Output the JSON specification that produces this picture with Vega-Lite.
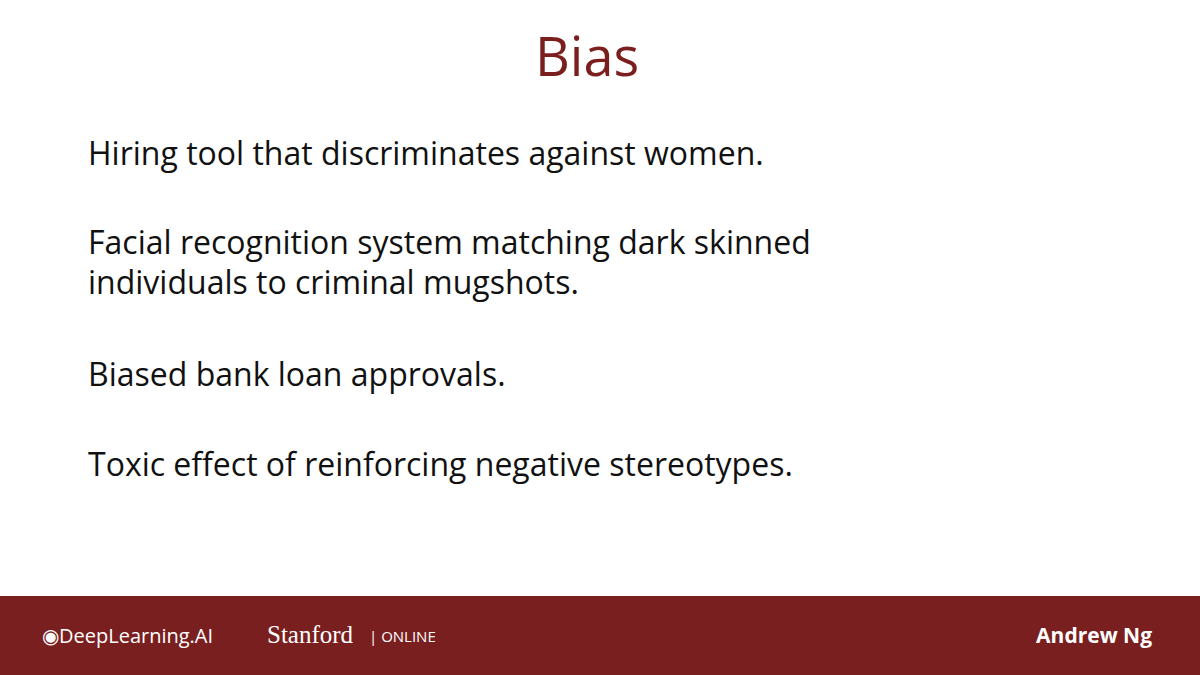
{
  "$schema": "https://vega.github.io/schema/vega-lite/v6.json",
  "width": 1200,
  "height": 675,
  "autosize": {"type": "none"},
  "padding": 0,
  "background": "white",
  "config": {"view": {"stroke": null}},
  "encoding": {
    "x": {"field": "x", "type": "quantitative", "scale": {"domain": [0, 1200], "nice": false, "zero": false}, "axis": null},
    "y": {"field": "y", "type": "quantitative", "scale": {"domain": [675, 0], "nice": false, "zero": false}, "axis": null}
  },
  "layer": [
    {
      "data": {"values": [{"x": 0, "x2": 1200, "y": 596, "y2": 675}]},
      "mark": {"type": "rect", "color": "#7a1f1f"},
      "encoding": {"x2": {"field": "x2"}, "y2": {"field": "y2"}}
    },
    {
      "data": {"values": [{"x": 587, "y": 60, "t": "Bias"}]},
      "mark": {"type": "text", "align": "center", "baseline": "middle", "font": "Open Sans", "fontSize": 54, "color": "#7b1e1e"},
      "encoding": {"text": {"field": "t"}}
    },
    {
      "data": {"values": [
        {"x": 88, "y": 155, "t": "Hiring tool that discriminates against women."},
        {"x": 88, "y": 244, "t": "Facial recognition system matching dark skinned"},
        {"x": 88, "y": 284, "t": "individuals to criminal mugshots."},
        {"x": 88, "y": 376, "t": "Biased bank loan approvals."},
        {"x": 88, "y": 466, "t": "Toxic effect of reinforcing negative stereotypes."}
      ]},
      "mark": {"type": "text", "align": "left", "baseline": "middle", "font": "Open Sans", "fontSize": 32, "color": "#111111"},
      "encoding": {"text": {"field": "t"}}
    },
    {
      "data": {"values": [{"x": 42, "y": 637, "t": "◉DeepLearning.AI"}]},
      "mark": {"type": "text", "align": "left", "baseline": "middle", "font": "Open Sans", "fontSize": 20, "color": "white"},
      "encoding": {"text": {"field": "t"}}
    },
    {
      "data": {"values": [{"x": 267, "y": 635, "t": "Stanford"}]},
      "mark": {"type": "text", "align": "left", "baseline": "middle", "font": "Liberation Serif", "fontSize": 25, "color": "white"},
      "encoding": {"text": {"field": "t"}}
    },
    {
      "data": {"values": [{"x": 369, "y": 637, "t": "| ONLINE"}]},
      "mark": {"type": "text", "align": "left", "baseline": "middle", "font": "Open Sans", "fontSize": 15, "color": "white"},
      "encoding": {"text": {"field": "t"}}
    },
    {
      "data": {"values": [{"x": 1152, "y": 637, "t": "Andrew Ng"}]},
      "mark": {"type": "text", "align": "right", "baseline": "middle", "font": "Open Sans", "fontSize": 21, "fontWeight": "bold", "color": "white"},
      "encoding": {"text": {"field": "t"}}
    }
  ]
}
